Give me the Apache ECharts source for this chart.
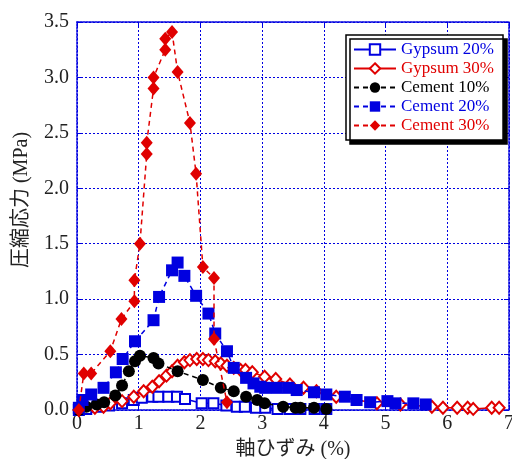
<!DOCTYPE html>
<html>
<head>
<meta charset="utf-8">
<script src="https://cdn.jsdelivr.net/npm/echarts@6/dist/echarts.min.js"></script>
<style>
  html, body { margin: 0; padding: 0; background: #fff; }
  #chart { width: 512px; height: 459px; }
</style>
</head>
<body>
<div id="chart"></div>
<script>
// Axial strain (%) and compressive stress (MPa) for each mix
const gypsum20X = [0.03, 0.15, 0.33, 0.52, 0.73, 0.92, 1.05, 1.22, 1.32, 1.48, 1.62, 1.75, 2.02, 2.21, 2.42, 2.59, 2.72, 2.90, 3.05, 3.25, 3.45, 3.62, 3.85, 4.04];
const gypsum20Y = [0.00, 0.01, 0.03, 0.04, 0.06, 0.09, 0.11, 0.12, 0.12, 0.12, 0.12, 0.10, 0.06, 0.06, 0.04, 0.03, 0.03, 0.02, 0.02, 0.01, 0.01, 0.01, 0.01, 0.01];

const gypsum30X = [0.03, 0.29, 0.43, 0.54, 0.73, 0.92, 1.08, 1.22, 1.33, 1.45, 1.54, 1.63, 1.74, 1.83, 1.94, 2.04, 2.13, 2.24, 2.33, 2.43, 2.54, 2.65, 2.73, 2.84, 3.04, 3.22, 3.45, 3.67, 3.88, 4.20, 4.86, 5.24, 5.75, 5.93, 6.16, 6.33, 6.42, 6.72, 6.84];
const gypsum30Y = [0.00, 0.02, 0.03, 0.06, 0.08, 0.12, 0.17, 0.21, 0.26, 0.31, 0.35, 0.40, 0.43, 0.45, 0.46, 0.46, 0.45, 0.44, 0.42, 0.40, 0.38, 0.36, 0.36, 0.34, 0.30, 0.28, 0.23, 0.20, 0.17, 0.12, 0.06, 0.05, 0.03, 0.02, 0.02, 0.02, 0.01, 0.02, 0.02];

const cement10X = [0.03, 0.15, 0.32, 0.44, 0.62, 0.73, 0.84, 0.94, 1.02, 1.24, 1.32, 1.63, 2.04, 2.33, 2.54, 2.74, 2.92, 3.04, 3.34, 3.54, 3.62, 3.84, 4.04];
const cement10Y = [0.00, 0.03, 0.05, 0.07, 0.13, 0.22, 0.35, 0.44, 0.49, 0.47, 0.42, 0.35, 0.27, 0.20, 0.17, 0.12, 0.09, 0.06, 0.03, 0.02, 0.02, 0.02, 0.01];

const cement20X = [0.03, 0.09, 0.23, 0.43, 0.63, 0.74, 0.94, 1.24, 1.33, 1.54, 1.63, 1.74, 1.93, 2.13, 2.24, 2.43, 2.54, 2.74, 2.86, 2.97, 3.05, 3.24, 3.43, 3.56, 3.84, 4.04, 4.34, 4.53, 4.75, 5.03, 5.16, 5.45, 5.65];
const cement20Y = [0.02, 0.09, 0.14, 0.20, 0.34, 0.46, 0.62, 0.81, 1.02, 1.26, 1.33, 1.21, 1.03, 0.87, 0.69, 0.53, 0.38, 0.29, 0.24, 0.21, 0.20, 0.20, 0.20, 0.18, 0.16, 0.14, 0.12, 0.09, 0.07, 0.08, 0.06, 0.06, 0.05];

const cement30X = [0.03, 0.11, 0.23, 0.54, 0.72, 0.93, 0.93, 1.02, 1.13, 1.13, 1.24, 1.24, 1.43, 1.43, 1.54, 1.63, 1.83, 1.93, 2.04, 2.22, 2.22, 2.43];
const cement30Y = [0.00, 0.33, 0.33, 0.53, 0.82, 0.98, 1.17, 1.50, 2.31, 2.41, 2.90, 3.00, 3.25, 3.35, 3.41, 3.05, 2.59, 2.13, 1.29, 1.19, 0.64, 0.07];

const seriesNames = ['Gypsum 20%', 'Gypsum 30%', 'Cement 10%', 'Cement 20%', 'Cement 30%'];
const xTicks = [0, 1, 2, 3, 4, 5, 6, 7];
const yTicks = [0, 0.5, 1, 1.5, 2, 2.5, 3, 3.5];

const BLUE = '#0000e0';
const RED = '#e00000';
const BLACK = '#000000';
const SERIF = '"Liberation Serif", "Times New Roman", "Noto Sans CJK JP", serif';

function pairs(xs, ys) {
  return xs.map((x, i) => [x, ys[i]]);
}

const gridLine = { show: true, lineStyle: { color: BLUE, width: 1, type: [2, 2] } };
const frameLine = { show: true, onZero: false, lineStyle: { color: BLUE, width: 1.5, type: [2, 1] } };
const innerTick = { show: true, inside: true, length: 5, lineStyle: { color: BLUE, width: 1 } };

const chart = echarts.init(document.getElementById('chart'), null, { renderer: 'canvas' });

const option = {
  animation: false,
  backgroundColor: '#ffffff',
  grid: { left: 77, right: 3, top: 22, bottom: 49, containLabel: false, outerBoundsMode: 'none' },
  legend: {
    orient: 'vertical',
    left: 346,
    top: 35,
    padding: [6, 9, 6, 7],
    itemGap: 2,
    itemWidth: 42,
    itemHeight: 13,
    backgroundColor: '#ffffff',
    borderColor: '#000000',
    borderWidth: 1.5,
    borderRadius: 0,
    shadowColor: '#000000',
    shadowBlur: 0,
    shadowOffsetX: 4,
    shadowOffsetY: 4,
    textStyle: { fontFamily: SERIF, fontSize: 17, lineHeight: 16 },
    data: [
      { name: seriesNames[0], textStyle: { color: BLUE } },
      { name: seriesNames[1], textStyle: { color: RED } },
      { name: seriesNames[2], textStyle: { color: BLACK } },
      { name: seriesNames[3], textStyle: { color: BLUE } },
      { name: seriesNames[4], textStyle: { color: RED } }
    ]
  },
  xAxis: [
    {
      type: 'value',
      min: 0, max: 7, interval: 1,
      name: '軸ひずみ (%)',
      nameLocation: 'middle',
      nameGap: 30,
      nameTextStyle: { fontFamily: SERIF, fontSize: 20, color: '#222' },
      axisLine: frameLine,
      axisTick: innerTick,
      splitLine: gridLine,
      axisLabel: {
        margin: 4, fontFamily: SERIF, fontSize: 20, color: '#222',
        customValues: xTicks, formatter: v => String(v)
      }
    },
    {
      type: 'value', position: 'top',
      min: 0, max: 7, interval: 1,
      axisLine: frameLine, axisTick: innerTick,
      splitLine: { show: false }, axisLabel: { show: false }
    }
  ],
  yAxis: [
    {
      type: 'value',
      min: 0, max: 3.5, interval: 0.5,
      name: '圧縮応力 (MPa)',
      nameLocation: 'middle',
      nameGap: 45,
      nameTextStyle: { fontFamily: SERIF, fontSize: 20, color: '#222', padding: [0, 0, 0, 32] },
      axisLine: frameLine,
      axisTick: innerTick,
      splitLine: gridLine,
      axisLabel: {
        margin: 8, fontFamily: SERIF, fontSize: 20, color: '#222',
        customValues: yTicks, formatter: v => v.toFixed(1)
      }
    },
    {
      type: 'value', position: 'right',
      min: 0, max: 3.5, interval: 0.5,
      axisLine: frameLine, axisTick: innerTick,
      splitLine: { show: false }, axisLabel: { show: false }
    }
  ],
  series: [
    {
      name: seriesNames[0], type: 'line', z: 2,
      data: pairs(gypsum20X, gypsum20Y),
      symbol: 'emptyRect', symbolSize: 10,
      itemStyle: { color: BLUE, borderWidth: 1.2 },
      lineStyle: { color: BLUE, width: 1.5, type: 'solid' }
    },
    {
      name: seriesNames[1], type: 'line', z: 3,
      data: pairs(gypsum30X, gypsum30Y),
      symbol: 'emptyDiamond', symbolSize: [11, 12],
      itemStyle: { color: RED, borderWidth: 1.2 },
      lineStyle: { color: RED, width: 1.5, type: 'solid' }
    },
    {
      name: seriesNames[2], type: 'line', z: 4,
      data: pairs(cement10X, cement10Y),
      symbol: 'circle', symbolSize: 12,
      itemStyle: { color: BLACK },
      lineStyle: { color: BLACK, width: 1.5, type: [5, 4] }
    },
    {
      name: seriesNames[3], type: 'line', z: 5,
      data: pairs(cement20X, cement20Y),
      symbol: 'rect', symbolSize: 12,
      itemStyle: { color: BLUE },
      lineStyle: { color: BLUE, width: 1.5, type: [5, 4] }
    },
    {
      name: seriesNames[4], type: 'line', z: 6,
      data: pairs(cement30X, cement30Y),
      symbol: 'diamond', symbolSize: [12, 14],
      itemStyle: { color: RED },
      lineStyle: { color: RED, width: 1.5, type: [5, 4] }
    }
  ]
};

chart.setOption(option);
</script>
</body>
</html>
